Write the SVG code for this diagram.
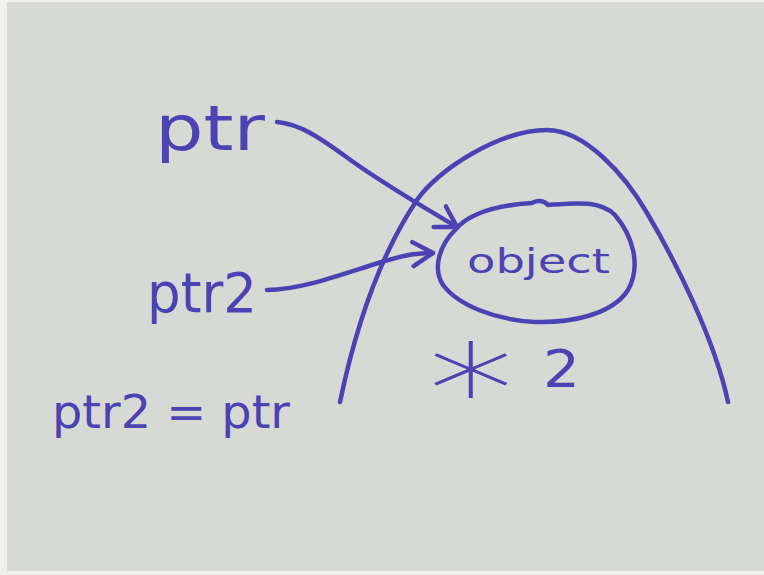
<svg xmlns="http://www.w3.org/2000/svg" width="764" height="575" viewBox="0 0 764 575">
  <defs>
    <style>
      .ink { fill: none; stroke: #4b43b3; stroke-width: 4.5; stroke-linecap: round; stroke-linejoin: round; }
      .hand { fill: #4b43b3; font-family: "DejaVu Sans", "Liberation Sans", sans-serif; }
    </style>
    <marker id="arrow" viewBox="-24 -16 28 32" markerWidth="28" markerHeight="32" refX="0" refY="0" orient="auto" markerUnits="userSpaceOnUse">
      <path d="M -20,-12 L 0,0 L -20,12" fill="none" stroke="#4b43b3" stroke-width="4.5" stroke-linecap="round" stroke-linejoin="round"/>
    </marker>
  </defs>
  <rect x="0" y="0" width="764" height="575" fill="#f0f0ee"/>
  <rect x="7" y="2" width="757" height="569" fill="#d7d9d4"/>

  <g id="heap">
    <path class="ink" d="M 340,402 C 355,330 380,255 417,200 C 437,170 500,130 547,130 C 585,130 625,175 647,213 C 675,260 715,340 728,402"/>
  </g>

  <g id="object">
    <path class="ink" d="M 455,230 C 470,212 500,205 532,203 C 536,200 544,200 548,205 C 575,203 600,200 615,215 C 632,235 642,265 628,290 C 612,315 570,323 535,322 C 495,320 458,305 443,285 C 432,268 440,245 455,230 Z"/>
    <text class="hand" x="467" y="273" font-size="34" textLength="143" lengthAdjust="spacingAndGlyphs">object</text>
  </g>

  <g id="ptr">
    <text class="hand" x="155" y="150" font-size="62" textLength="110" lengthAdjust="spacingAndGlyphs">ptr</text>
  </g>

  <g id="ptr2">
    <text class="hand" x="147" y="312" font-size="56" textLength="110" lengthAdjust="spacingAndGlyphs">ptr2</text>
  </g>

  <g id="assign">
    <text class="hand" x="52" y="428" font-size="46" textLength="238" lengthAdjust="spacingAndGlyphs">ptr2 = ptr</text>
  </g>

  <g id="count">
    <text class="hand" x="428" y="434" font-size="125" font-weight="200" textLength="86" lengthAdjust="spacingAndGlyphs">*</text>
    <text class="hand" x="543" y="387" font-size="51" textLength="37" lengthAdjust="spacingAndGlyphs">2</text>
  </g>

  <g id="connectors">
    <path class="ink" d="M 277,122 C 300,124 320,138 345,156 C 380,182 420,205 457,227" marker-end="url(#arrow)"/>
    <path class="ink" d="M 267,290 C 300,290 340,275 375,264 S 415,254 433,253" marker-end="url(#arrow)"/>
  </g>
</svg>
